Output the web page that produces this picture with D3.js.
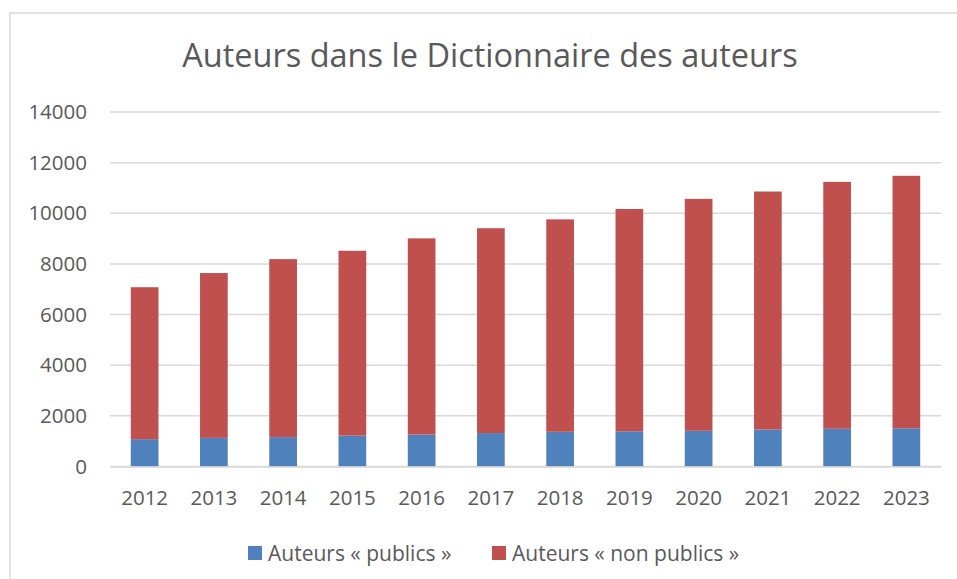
<!DOCTYPE html>
<html>
<head>
<meta charset="utf-8">
<script src="https://cdn.jsdelivr.net/npm/d3@7"></script>
<style>
  body { margin: 0; background: #fff; }
  text { font-family: "Open Sans", sans-serif; fill: #595959; }
</style>
</head>
<body>
<svg id="chart" width="957" height="579"></svg>
<script>
let years = ['2012','2013','2014','2015','2016','2017','2018','2019','2020','2021','2022','2023'];
let publics = [1080, 1130, 1160, 1220, 1260, 1320, 1370, 1390, 1410, 1460, 1490, 1510];
let totals = [7080, 7640, 8190, 8520, 9010, 9410, 9760, 10170, 10570, 10860, 11240, 11480];
let nonPublics = totals.map((t, i) => t - publics[i]);
let yTicks = [0, 2000, 4000, 6000, 8000, 10000, 12000, 14000];
let seriesNames = ['Auteurs « publics »', 'Auteurs « non publics »'];
let colors = ['#4f81bd', '#c0504d'];

let svg = d3.select('#chart');

// cadre
svg.append('rect')
  .attr('x', 10).attr('y', 13)
  .attr('width', 960).attr('height', 580)
  .attr('fill', 'none').attr('stroke', '#d9d9d9').attr('stroke-width', 1.5);

let margin = {left: 110, right: 941, top: 112, bottom: 466.5};

let x = d3.scaleBand().domain(years).range([margin.left, margin.right]).paddingInner(0.6).paddingOuter(0.3);
let y = d3.scaleLinear().domain([0, 14000]).range([margin.bottom, margin.top]);

svg.append('text')
  .attr('x', 490).attr('y', 67)
  .attr('text-anchor', 'middle')
  .style('font-size', '32.5px')
  .text('Auteurs dans le Dictionnaire des auteurs');

// grille
svg.append('g').selectAll('line')
  .data(yTicks)
  .join('line')
  .attr('x1', margin.left).attr('x2', margin.right)
  .attr('y1', d => y(d)).attr('y2', d => y(d))
  .attr('stroke', '#d9d9d9').attr('stroke-width', 1.5);

let yAxis = svg.append('g')
  .attr('transform', `translate(${margin.left},0)`)
  .call(d3.axisLeft(y).tickValues(yTicks).tickSize(0).tickPadding(23).tickFormat(d3.format('d')));
yAxis.select('.domain').remove();
yAxis.selectAll('text').style('font-size', '20.5px').attr('fill', '#595959');

let stackData = years.map((yr, i) => ({year: yr, pub: publics[i], nonpub: nonPublics[i]}));
let stack = d3.stack().keys(['pub', 'nonpub'])(stackData);

svg.append('g').selectAll('g')
  .data(stack)
  .join('g')
  .attr('fill', (d, i) => colors[i])
  .selectAll('rect')
  .data(d => d)
  .join('rect')
  .attr('x', d => x(d.data.year))
  .attr('width', x.bandwidth())
  .attr('y', d => y(d[1]))
  .attr('height', d => y(d[0]) - y(d[1]));

let xAxis = svg.append('g')
  .attr('transform', `translate(0,${margin.bottom})`)
  .call(d3.axisBottom(x).tickSize(0).tickPadding(24));
xAxis.select('.domain').attr('stroke', '#d9d9d9').attr('stroke-width', 1.5);
xAxis.selectAll('text').style('font-size', '20.5px').attr('fill', '#595959');

// légende
let legendX = [248, 492];
let legend = svg.append('g').selectAll('g')
  .data(seriesNames)
  .join('g')
  .attr('transform', (d, i) => `translate(${legendX[i]},546)`);
legend.append('rect').attr('width', 14).attr('height', 14).attr('fill', (d, i) => colors[i]);
legend.append('text').attr('x', 20).attr('y', 14.5).style('font-size', '21px').text(d => d);
</script>
</body>
</html>
